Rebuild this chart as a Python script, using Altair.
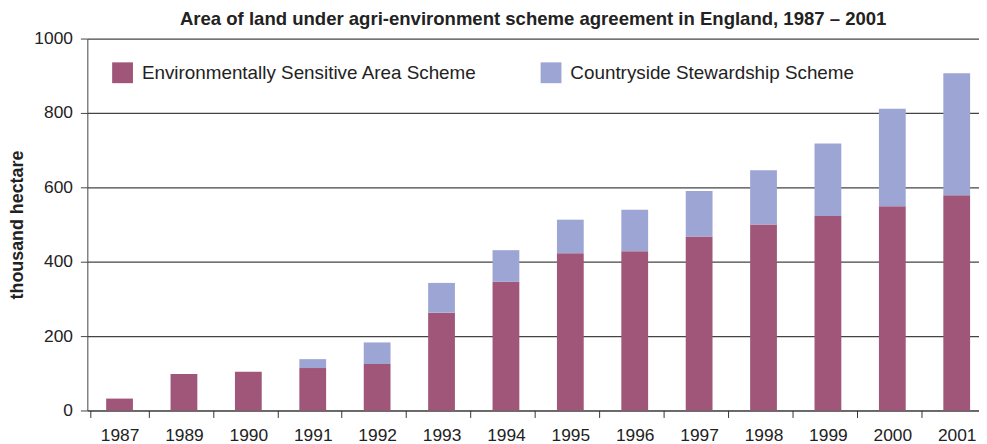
import altair as alt
import pandas as pd

years = ["1987", "1989", "1990", "1991", "1992", "1993", "1994",
         "1995", "1996", "1997", "1998", "1999", "2000", "2001"]
esa = [32, 98, 104, 114, 125, 263, 346, 423, 428, 468, 500, 523, 549, 579]
css = [0, 0, 0, 24, 58, 80, 85, 90, 112, 122, 146, 195, 262, 328]

series = ["Environmentally Sensitive Area Scheme", "Countryside Stewardship  Scheme"]
colors = ["#A05678", "#9CA5D4"]

rows = []
for y, a, b in zip(years, esa, css):
    rows.append({"year": y, "scheme": series[0], "value": a, "ord": 0})
    rows.append({"year": y, "scheme": series[1], "value": b, "ord": 1})
df = pd.DataFrame(rows)

FONT = "Liberation Sans"

chart = alt.Chart(df).mark_bar(size=27).encode(
    x=alt.X("year:N", sort=years, title=None,
            scale=alt.Scale(range=[0, 909]),
            axis=alt.Axis(labelAngle=0, tickBand="extent", tickSize=7,
                          labelPadding=9, labelFontSize=17.5, labelColor="#222",
                          domainColor="#333", tickColor="#333", grid=False)),
    y=alt.Y("value:Q", stack="zero", title="thousand hectare",
            scale=alt.Scale(domain=[0, 1000]),
            axis=alt.Axis(values=[0, 200, 400, 600, 800, 1000], format="d", tickSize=7,
                          labelPadding=8, labelFontSize=17.5, labelColor="#222",
                          titleFontSize=18, titleFontWeight="bold", titleColor="#222",
                          titlePadding=7, domainColor="#444", tickColor="#444",
                          grid=True, gridColor="#444", gridWidth=1.2)),
    color=alt.Color("scheme:N", sort=series,
                    scale=alt.Scale(domain=series, range=colors),
                    legend=alt.Legend(title=None, orient="none", legendX=25, legendY=24,
                                      direction="horizontal", symbolType="square",
                                      symbolSize=441, symbolStrokeWidth=0,
                                      labelFontSize=19, labelColor="#222",
                                      labelOffset=9, columnPadding=64,
                                      labelLimit=600)),
    order=alt.Order("ord:Q", sort="ascending"),
).properties(
    width=899, height=375,
    title=alt.TitleParams("Area of land under agri-environment scheme agreement in England, 1987 – 2001",
                          fontSize=18.7, fontWeight="bold", color="#222", offset=1,
                          anchor="middle"),
    autosize=alt.AutoSizeParams(type="none"),
    padding={"left": 80, "top": 29, "right": 0, "bottom": 34},
).configure(font=FONT).configure_view(stroke=None)

chart.save("out.html", embed_options={"renderer": "svg", "actions": False})
